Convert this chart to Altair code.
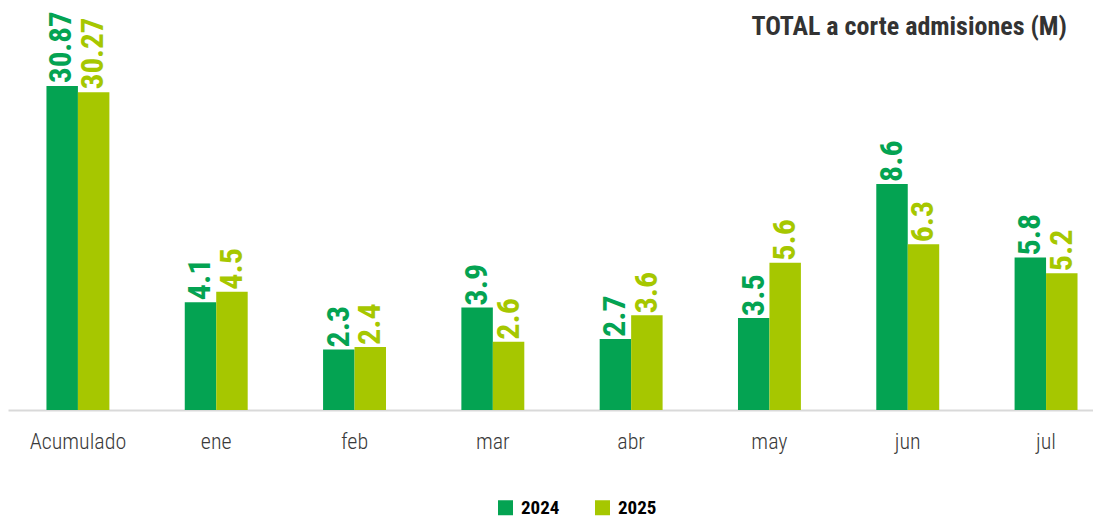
import altair as alt
import pandas as pd

categorias = ["Acumulado", "ene", "feb", "mar", "abr", "may", "jun", "jul"]
meses = ["ene", "feb", "mar", "abr", "may", "jun", "jul"]
v2024 = [4.1, 2.3, 3.9, 2.7, 3.5, 8.6, 5.8]
v2025 = [4.5, 2.4, 2.6, 3.6, 5.6, 6.3, 5.2]
acum_2024 = 30.87
acum_2025 = 30.27
series = ["2024", "2025"]
colores = ["#04A352", "#A6C700"]

FONT = "Roboto Condensed, DejaVu Sans Condensed, sans-serif"

rows = [
    {"cat": "Acumulado", "serie": "2024", "valor": acum_2024, "grupo": "acum"},
    {"cat": "Acumulado", "serie": "2025", "valor": acum_2025, "grupo": "acum"},
]
for m, a, b in zip(meses, v2024, v2025):
    rows.append({"cat": m, "serie": "2024", "valor": a, "grupo": "mes"})
    rows.append({"cat": m, "serie": "2025", "valor": b, "grupo": "mes"})
df = pd.DataFrame(rows)
df["etiqueta"] = df["valor"].map(lambda v: f"{v:g}")

x = alt.X(
    "cat:N",
    sort=categorias,
    scale=alt.Scale(domain=categorias, paddingInner=0.545, paddingOuter=0.195, align=0.713),
    axis=alt.Axis(
        title=None, labelAngle=0, ticks=False, domainColor="#d9d9d9", domainWidth=2,
        labelFont=FONT, labelFontSize=22, labelFontWeight=300, labelColor="#3a3a3a", labelPadding=21,
    ),
)
xo = alt.XOffset("serie:N", sort=series, scale=alt.Scale(domain=series))
color = alt.Color(
    "serie:N",
    scale=alt.Scale(domain=series, range=colores),
    legend=alt.Legend(
        orient="none", legendX=488, legendY=490, direction="horizontal", title=None,
        symbolType="square", symbolSize=225, symbolStrokeWidth=0, labelFont=FONT,
        labelFontSize=19, labelFontWeight="bold", labelColor="#000000", labelOffset=6,
        columnPadding=33, padding=0,
    ),
)

base = alt.Chart(df)

y_acum = alt.Y("valor:Q", scale=alt.Scale(domain=[0, 38.3], nice=False, zero=True), axis=None)
y_mes = alt.Y("valor:Q", scale=alt.Scale(domain=[0, 15.29], nice=False, zero=True), axis=None)

acum_src = base.transform_filter("datum.grupo == 'acum'")
mes_src = base.transform_filter("datum.grupo == 'mes'")

acum_bars = acum_src.mark_bar().encode(x=x, xOffset=xo, y=y_acum, color=color)
acum_text = acum_src.mark_text(
    angle=270, align="left", baseline="middle", dx=3, font=FONT, fontSize=31, fontWeight="bold"
).encode(x=x, xOffset=xo, y=y_acum, color=color, text="etiqueta:N")

mes_bars = mes_src.mark_bar().encode(x=x, xOffset=xo, y=y_mes, color=color)
mes_text = mes_src.mark_text(
    angle=270, align="left", baseline="middle", dx=2, font=FONT, fontSize=32, fontWeight="bold"
).encode(x=x, xOffset=xo, y=y_mes, color=color, text="etiqueta:N")

chart = (
    alt.layer(alt.layer(acum_bars, acum_text), alt.layer(mes_bars, mes_text))
    .resolve_scale(y="independent")
    .properties(
        width=1085,
        height=402,
        autosize=alt.AutoSizeParams(type="none"),
        padding={"left": 0, "right": 0, "top": 0, "bottom": 108},
        title=alt.TitleParams(
            "TOTAL a corte admisiones (M)", anchor="end", font=FONT, fontSize=26,
            fontWeight="bold", color="#333333", offset=-32, dx=-26,
        ),
    )
    .configure_view(stroke=None)
)

chart.save("out.html", embed_options={"renderer": "svg", "actions": False})
